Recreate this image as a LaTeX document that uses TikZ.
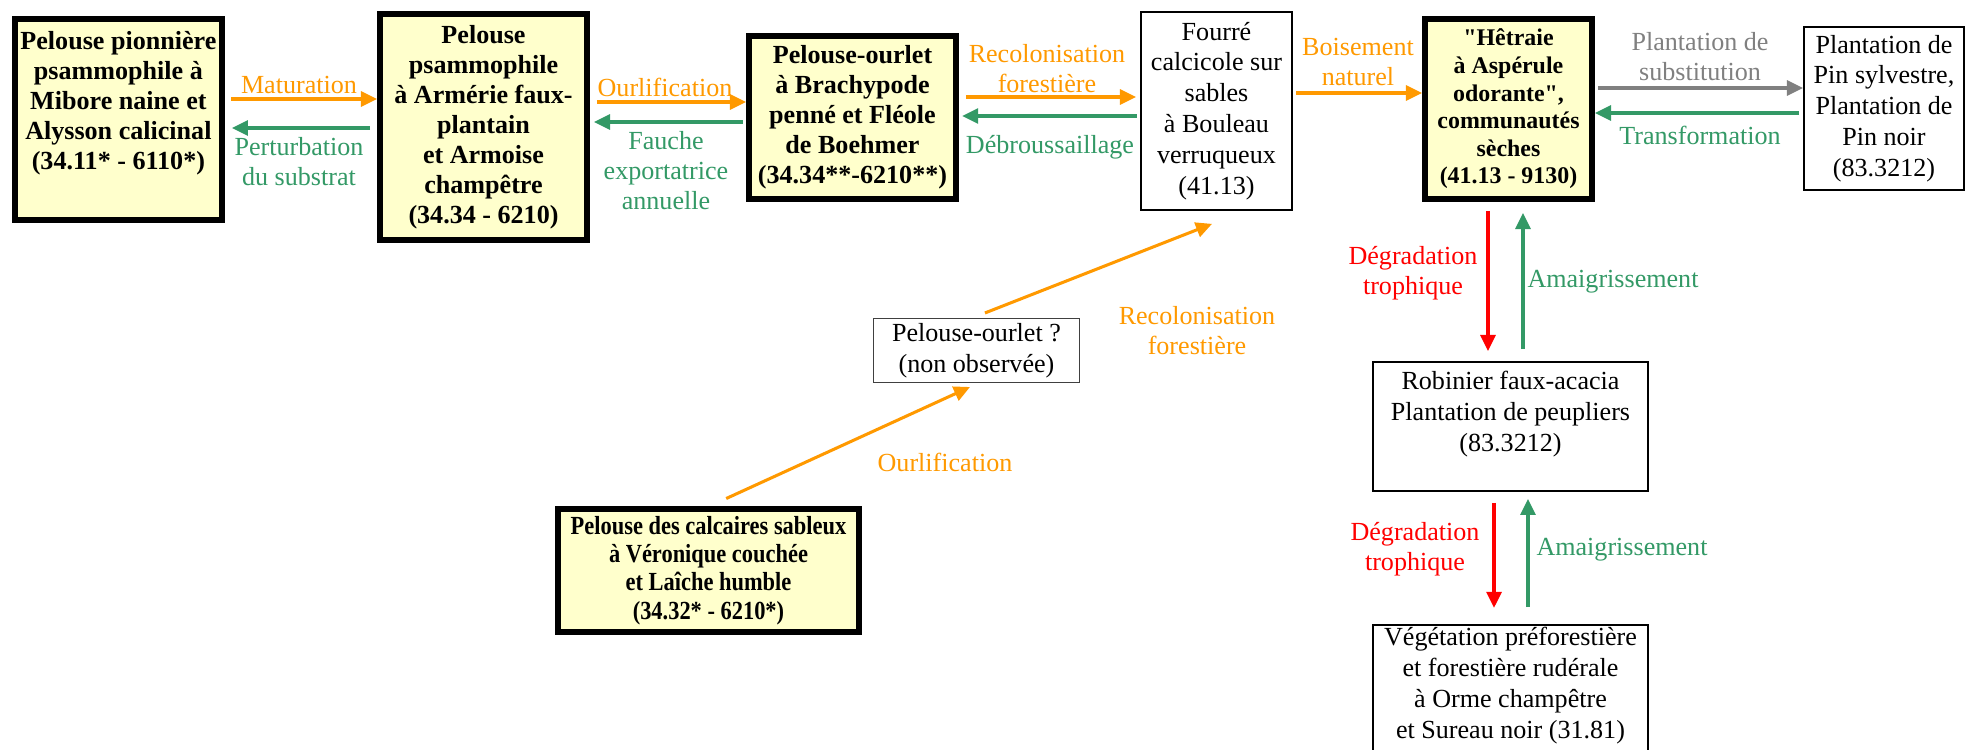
\documentclass[tikz,border=0pt]{standalone}
\usepackage{fontspec}
\setmainfont{Liberation Serif}[Ligatures=TeXOff]
\newfontfamily\narrowserif[FakeStretch=0.86]{Liberation Serif}
\usetikzlibrary{arrows.meta}

\definecolor{pelouse}{HTML}{FFFFCC}
\definecolor{sucorange}{HTML}{FF9900}
\definecolor{sucgreen}{HTML}{339966}
\definecolor{sucred}{HTML}{FF0000}
\definecolor{sucgray}{HTML}{808080}

\tikzset{
	habitat/.style={draw, line width=2.8pt, fill=pelouse, align=center, inner sep=1pt,
		font=\fontsize{12}{13.8}\selectfont\bfseries},
	plainhab/.style={draw, line width=0.9pt, align=center, inner sep=1pt,
		font=\fontsize{12}{14.2}\selectfont},
	lbl/.style={align=center, inner sep=0pt, font=\fontsize{12}{13.8}\selectfont},
	trans/.style={line width=1.4pt, -{Triangle[length=7.4pt,width=6.9pt]}}
}

\begin{document}
\begin{tikzpicture}[x=0.46pt, y=-0.46pt]
	\useasboundingbox (0,0) rectangle (1965,749);
	\clip (0,0) rectangle (1965,749);
	% habitats
	\node[habitat, minimum width=95.2pt, minimum height=92.5pt] (pionniere) at (118.4,119.5) {Pelouse pionnière\\psammophile à\\Mibore naine et\\Alysson calicinal\\(34.11* - 6110*)\\[4pt]~};
	\node[habitat, minimum width=95.2pt, minimum height=104pt] (armerie) at (483.5,127) {Pelouse\\psammophile\\à Armérie faux-\\plantain\\et Armoise\\champêtre\\(34.34 - 6210)};
	\node[habitat, minimum width=95.2pt, minimum height=75pt] (brachypode) at (852.5,117.5) {Pelouse-ourlet\\à Brachypode\\penné et Fléole\\de Boehmer\\(34.34**-6210**)};
	\node[plainhab, minimum width=69.5pt, minimum height=91.1pt] (fourre) at (1216.5,111) {Fourré\\calcicole sur\\sables\\à Bouleau\\verruqueux\\(41.13)};
	\node[habitat, font=\fontsize{11}{12.7}\selectfont\bfseries, minimum width=76.8pt, minimum height=82.8pt] (hetraie) at (1508.5,109) {"Hêtraie\\à Aspérule\\odorante",\\communautés\\sèches\\(41.13 - 9130)};
	\node[plainhab, minimum width=73.6pt, minimum height=75pt] (pins) at (1884,108.5) {Plantation de\\Pin sylvestre,\\Plantation de\\Pin noir\\(83.3212)};
	\node[plainhab, line width=0.6pt, draw=black!75, minimum width=94.8pt, minimum height=29.4pt] (ourletq) at (976.5,350.5) {Pelouse-ourlet ?\\(non observée)};
	\node[habitat, font=\fontsize{12}{13}\selectfont\narrowserif\bfseries, minimum width=138.5pt, minimum height=56.6pt] (calcaires) at (708.5,570.5) {Pelouse des calcaires sableux\\à Véronique couchée\\et Laîche humble\\(34.32* - 6210*)};
	\node[plainhab, minimum width=126.5pt, minimum height=59.3pt] (robinier) at (1510.5,426.5) {Robinier faux-acacia\\Plantation de peupliers\\(83.3212)\\~};
	\node[plainhab, anchor=north, minimum width=126.5pt] (ruderale) at (1510.5,624) {Végétation préforestière\\et forestière rudérale\\à Orme champêtre\\et Sureau noir (31.81)\\~};

	% transitions
	\draw[trans, sucorange, shorten <=2.8pt] (pionniere.east |- 0,99) -- (armerie.west |- 0,99);
	\draw[trans, sucgreen, shorten <=3.2pt, shorten >=3.2pt] (armerie.west |- 0,128) -- (pionniere.east |- 0,128);
	\draw[trans, sucorange, shorten <=3.2pt] (armerie.east |- 0,102) -- (brachypode.west |- 0,102);
	\draw[trans, sucgreen, shorten <=1.4pt, shorten >=1.8pt] (brachypode.west |- 0,122) -- (armerie.east |- 0,122);
	\draw[trans, sucorange, shorten <=3.2pt, shorten >=1.8pt] (brachypode.east |- 0,97) -- (fourre.west |- 0,97);
	\draw[trans, sucgreen, shorten <=1.4pt, shorten >=1.4pt] (fourre.west |- 0,116) -- (brachypode.east |- 0,116);
	\draw[trans, sucorange, shorten <=1.4pt] (fourre.east |- 0,93) -- (hetraie.west |- 0,93);
	\draw[trans, sucgray, shorten <=1.4pt] (hetraie.east |- 0,88) -- (pins.west |- 0,88);
	\draw[trans, sucgreen, shorten <=1.8pt] (pins.west |- 0,113) -- (hetraie.east |- 0,113);
	\draw[trans, sucred, shorten <=4.1pt, shorten >=4.6pt] (hetraie.south -| 1488,0) -- (robinier.north -| 1488,0);
	\draw[trans, sucgreen, shorten <=5.5pt, shorten >=5pt] (robinier.north -| 1523,0) -- (hetraie.south -| 1523,0);
	\draw[trans, sucred, shorten <=5pt, shorten >=7.4pt] (robinier.south -| 1494,0) -- (ruderale.north -| 1494,0);
	\draw[trans, sucgreen, shorten <=7.8pt, shorten >=3.2pt] (ruderale.north -| 1528,0) -- (robinier.south -| 1528,0);
	\draw[trans, sucorange, shorten <=8.2pt, shorten >=4.3pt] (calcaires.north -| 710,0) -- (ourletq.south -| 978.5,0);
	\draw[trans, sucorange, shorten <=6.2pt, shorten >=16.2pt] (ourletq.north -| 972.4,0) -- (fourre.south -| 1244.8,0);

	% labels
	\node[lbl, text=sucorange] (lmaturation) at (299,85) {Maturation};
	\node[lbl, text=sucgreen] (lperturb) at (299,161.5) {Perturbation\\du substrat};
	\node[lbl, text=sucorange] (lourlif) at (665,87) {Ourlification};
	\node[lbl, text=sucgreen] (lfauche) at (666,171) {Fauche\\exportatrice\\annuelle};
	\node[lbl, text=sucorange] (lrecolon) at (1047,69) {Recolonisation\\forestière};
	\node[lbl, text=sucgreen] (ldebrous) at (1050,147) {Débroussaillage};
	\node[lbl, text=sucorange] (lboisement) at (1358,62) {Boisement\\naturel};
	\node[lbl, text=sucgray] (lsubstit) at (1700,57) {Plantation de\\substitution};
	\node[lbl, text=sucgreen] (ltransfo) at (1700,135) {Transformation};
	\node[lbl, text=sucred] (ldegrad) at (1413,273) {Dégradation\\trophique};
	\node[lbl, text=sucgreen] (lamaigr) at (1613,282) {Amaigrissement};
	\node[lbl, text=sucred] (ldegradb) at (1415,549) {Dégradation\\trophique};
	\node[lbl, text=sucgreen] (lamaigrb) at (1622,550) {Amaigrissement};
	\node[lbl, text=sucorange] (lourlifb) at (945,462) {Ourlification};
	\node[lbl, text=sucorange] (lrecolonb) at (1197,331) {Recolonisation\\forestière};
\end{tikzpicture}
\end{document}
